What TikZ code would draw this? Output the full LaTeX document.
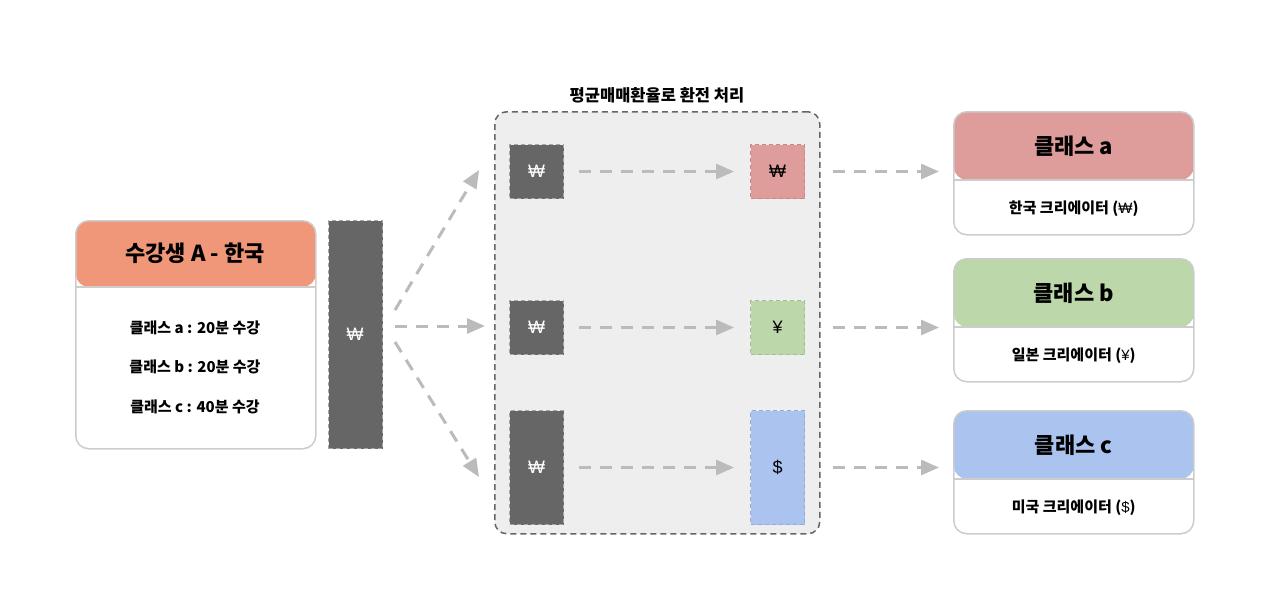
\documentclass[tikz,border=0pt]{standalone}
\usepackage{fontspec}
\setmainfont{Noto Sans CJK KR}
\newfontfamily\symf{Liberation Sans}
\usetikzlibrary{arrows.meta}
\definecolor{orangeh}{HTML}{F0977A}
\definecolor{redh}{HTML}{DE9D9B}
\definecolor{greenh}{HTML}{BCD7AA}
\definecolor{blueh}{HTML}{AAC3EF}
\definecolor{boxline}{HTML}{CCCCCC}
\definecolor{darkbar}{HTML}{666666}
\definecolor{arrowc}{HTML}{BBBBBB}
\definecolor{contfill}{HTML}{EEEEEE}
\definecolor{contline}{HTML}{666666}
\tikzset{
  card/.style={draw=boxline, line width=1.5pt, fill=white, rounded corners=13pt,
    minimum width=240pt, inner sep=0pt, anchor=north west},
  bar/.style={draw=#1, fill=darkbar, line width=1pt, dash pattern=on 4pt off 3pt,
    minimum width=54pt, inner sep=0pt, anchor=north west},
  cur/.style={draw=#1!88!black, line width=1pt, dash pattern=on 4pt off 3pt,
    minimum width=54pt, inner sep=0pt, anchor=north west},
  flow/.style={draw=arrowc, line width=3pt, dash pattern=on 12pt off 9pt,
    -{Triangle[length=18pt,width=15pt,fill=arrowc]}},
  big/.style={font=\fontsize{22}{26}\selectfont\bfseries},
  mid/.style={font=\fontsize{15}{18}\selectfont\bfseries},
  won/.style={font=\fontsize{18}{20}\selectfont\symf}
}
\begin{document}
\begin{tikzpicture}[x=1pt,y=-1pt]
\useasboundingbox (0,0) rectangle (1268,614);
% student card
\node[card, minimum height=228pt,
  path picture={\fill[orangeh] (path picture bounding box.north west) rectangle ([yshift=-66pt]path picture bounding box.north east);
  \draw[boxline,line width=2pt] ([yshift=-66pt]path picture bounding box.north west) -- ([yshift=-66pt]path picture bounding box.north east);}]
  (stu) at (75,220) {};
\node[big] (stut) at (195,253) {수강생 A - 한국};
\node[mid] (stu1) at (195,328) {클래스 a : 20분 수강};
\node[mid] (stu2) at (195,367) {클래스 b : 20분 수강};
\node[mid] (stu3) at (195,407) {클래스 c : 40분 수강};
% tall bar
\node[bar=gray!70, minimum height=228pt] (wbar) at (328,220) {};
\node[won, text=white] (wbart) at (355,334) {₩};
% container
\node[draw=contline, fill=contfill, line width=1.5pt, dash pattern=on 6pt off 4pt,
  rounded corners=12pt, minimum width=325pt, minimum height=422pt, inner sep=0pt, anchor=north west] (cont) at (494,111) {};
\node[font=\fontsize{16.5}{19}\selectfont\bfseries] (contt) at (657,95) {평균매매환율로 환전 처리};
% source boxes
\node[bar=gray!70, minimum height=54pt] (s1) at (509,144) {};
\node[bar=gray!70, minimum height=54pt] (s2) at (509,300) {};
\node[bar=gray!70, minimum height=114pt] (s3) at (509,410) {};
\node[won, text=white] (s1t) at (s1.center) {₩};
\node[won, text=white] (s2t) at (s2.center) {₩};
\node[won, text=white] (s3t) at (s3.center) {₩};
% target boxes
\node[cur=redh, fill=redh, minimum height=54pt] (t1) at (750,144) {};
\node[cur=greenh, fill=greenh, minimum height=54pt] (t2) at (750,300) {};
\node[cur=blueh, fill=blueh, minimum height=114pt] (t3) at (750,410) {};
\node[won] (t1t) at (t1.center) {₩};
\node[won] (t2t) at (t2.center) {¥};
\node[won] (t3t) at (t3.center) {\$};
% class cards
\foreach \n/\y/\c/\t/\s in {ca/111/redh/a/{한국 크리에이터 ({\symf\mdseries ₩})},cb/258/greenh/b/{일본 크리에이터 ({\symf\mdseries ¥})},cc/410/blueh/c/{미국 크리에이터 ({\symf\mdseries \$})}}{
  \node[card, minimum height=123pt,
    path picture={\fill[\c] (path picture bounding box.north west) rectangle ([yshift=-68pt]path picture bounding box.north east);
    \draw[boxline,line width=2.5pt] ([yshift=-68pt]path picture bounding box.north west) -- ([yshift=-68pt]path picture bounding box.north east);}]
    (\n) at (953,\y) {};
  \node[big] (\n t) at ([yshift=-35pt]\n.north) {클래스 \t};
  \node[font=\fontsize{15}{18}\selectfont\bfseries] (\n s) at ([yshift=-98pt]\n.north) {\s};
}
% coordinates for arrow ends
\coordinate (b1) at (395,310);
\coordinate (b2) at (395,326);
\coordinate (b3) at (395,342);
\coordinate (e1) at (479,170);
\coordinate (e2) at (485,326);
\coordinate (e3) at (479,477);
\draw[flow] (b1) -- (e1);
\draw[flow] (b2) -- (e2);
\draw[flow] (b3) -- (e3);
% inner arrows
\draw[flow] ([xshift=15pt]s1.east) -- ([xshift=-16pt]t1.west);
\draw[flow] ([xshift=15pt]s2.east) -- ([xshift=-16pt]t2.west);
\draw[flow] ([xshift=15pt]s3.east) -- ([xshift=-16pt]t3.west);
% outer arrows
\draw[flow] ([xshift=28pt]t1.east) -- ([xshift=-14pt]ca.west |- t1.east);
\draw[flow] ([xshift=28pt]t2.east) -- ([xshift=-14pt]cb.west |- t2.east);
\draw[flow] ([xshift=28pt]t3.east) -- ([xshift=-14pt]cc.west |- t3.east);
\end{tikzpicture}
\end{document}
